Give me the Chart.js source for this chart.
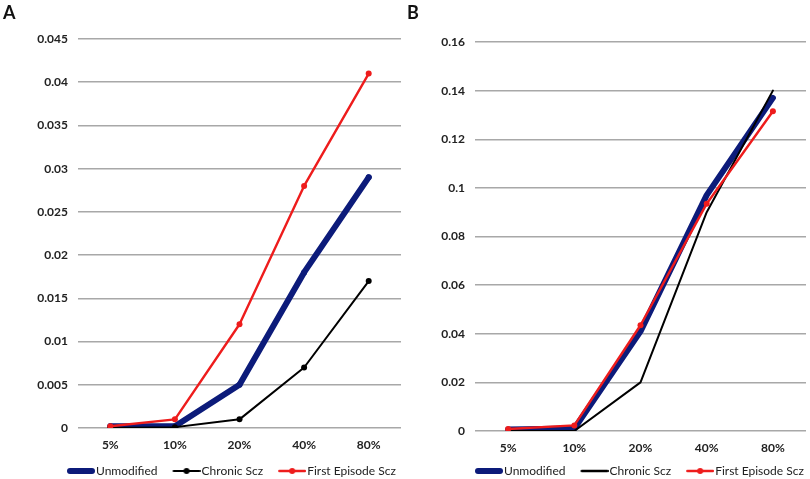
<!DOCTYPE html>
<html>
<head>
<meta charset="utf-8">
<script src="https://cdn.jsdelivr.net/npm/chart.js@4.4.1/dist/chart.umd.min.js"></script>
<style>
  html, body { margin: 0; padding: 0; background: #fff; }
  #wrap { position: relative; width: 810px; height: 479px; overflow: hidden; }
  .panel { position: absolute; top: 0; width: 405px; height: 479px; }
  .tag { position: absolute; top: 1px; font: bold 18px Lato, "DejaVu Sans", sans-serif; color: #111; }
</style>
</head>
<body>
<div id="wrap">
  <div class="panel" style="left:0"><canvas id="chartA" width="405" height="479"></canvas></div>
  <div class="panel" style="left:405px"><canvas id="chartB" width="405" height="479"></canvas></div>
  <div class="tag" style="left:3px">A</div>
  <div class="tag" style="left:407px">B</div>
</div>
<script>
  // ---- data ----
  var categories = ['5%', '10%', '20%', '40%', '80%'];
  var seriesNames = ['Unmodified', 'Chronic Scz', 'First Episode Scz'];

  // panel A
  var unmodifiedA   = [0.0002, 0.0002, 0.005, 0.018, 0.029];
  var chronicA      = [0.0, 0.0001, 0.001, 0.007, 0.017];
  var firstEpisodeA = [0.0002, 0.001, 0.012, 0.028, 0.041];
  var yTicksA = { max: 0.045, step: 0.005 };

  // panel B
  var unmodifiedB   = [0.0006, 0.001, 0.041, 0.097, 0.137];
  var chronicB      = [0.0, 0.0, 0.020, 0.090, 0.140];
  var firstEpisodeB = [0.0008, 0.0023, 0.0435, 0.0935, 0.1315];
  var yTicksB = { max: 0.16, step: 0.02 };

  var BLUE = '#0c1b7a';
  var BLACK = '#000000';
  var RED = '#ee1c1c';
  var FONT = 'Lato';

  /**
   * Small canvas used as legend swatch: transparent on the left,
   * line (and optional dot) on the right so the text sits right after it
   */
  function makeSwatch(color, width, dot) {
    var c = document.createElement('canvas');
    c.width = 46;
    c.height = 10;
    var ctx = c.getContext('2d');
    ctx.strokeStyle = color;
    ctx.lineWidth = width;
    ctx.lineCap = 'round';
    ctx.beginPath();
    ctx.moveTo(18 + width / 2, 5);
    ctx.lineTo(46 - width / 2, 5);
    ctx.stroke();
    if (dot) {
      ctx.fillStyle = color;
      ctx.beginPath();
      ctx.arc(32, 5, 3, 0, Math.PI * 2);
      ctx.fill();
    }
    return c;
  }

  // slide the legend box sideways after layout (y labels need the room on the left)
  var legendShift = {
    id: 'legendShift',
    afterLayout: function(chart, args, options) {
      if (chart.legend) {
        chart.legend.left += options.dx;
        chart.legend.right += options.dx;
      }
    }
  };

  function makeChart(id, series, swatches, dots, yTicks, opts) {
    var widths = [6, 2, 2.4];
    var colors = [BLUE, BLACK, RED];
    var datasets = series.map(function(values, i) {
      return {
        label: seriesNames[i],
        data: values,
        borderColor: colors[i],
        backgroundColor: colors[i],
        borderWidth: widths[i],
        borderCapStyle: 'round',
        borderJoinStyle: 'round',
        pointRadius: dots[i] ? 3 : 0,
        pointBorderWidth: 0,
        pointBackgroundColor: colors[i],
        tension: 0,
        order: 3 - i
      };
    });

    return new Chart(document.getElementById(id), {
      type: 'line',
      data: { labels: categories, datasets: datasets },
      plugins: [legendShift],
      options: {
        responsive: false,
        animation: false,
        devicePixelRatio: 1,
        layout: { padding: { left: 0, right: 2, top: opts.padTop, bottom: -8 } },
        plugins: {
          tooltip: { enabled: false },
          legendShift: { dx: opts.legendDx },
          legend: {
            position: 'bottom',
            align: 'start',
            labels: {
              usePointStyle: true,
              pointStyleWidth: 36,
              padding: 2,
              color: '#222',
              font: { family: FONT, size: 12 },
              generateLabels: function(chart) {
                return chart.data.datasets.map(function(ds, i) {
                  return {
                    text: ds.label,
                    pointStyle: swatches[i],
                    fillStyle: 'transparent',
                    strokeStyle: 'transparent',
                    lineWidth: 0,
                    hidden: false,
                    datasetIndex: i,
                    fontColor: '#222'
                  };
                });
              }
            }
          }
        },
        scales: {
          x: {
            offset: true,
            grid: { display: false, drawTicks: false },
            border: { display: false },
            ticks: { color: '#222', padding: 10, font: { family: FONT, size: 12, weight: 'bold' } },
            afterFit: function(scale) { scale.height = opts.xHeight; }
          },
          y: {
            min: 0,
            max: yTicks.max,
            border: { display: false },
            grid: { color: '#a8a8a8', lineWidth: 1.5, drawTicks: false },
            ticks: {
              stepSize: yTicks.step,
              padding: 10,
              color: '#222',
              font: { family: FONT, size: 12, weight: 'bold' },
              callback: function(v) { return String(Number(v.toFixed(4))); }
            },
            afterFit: function(scale) { scale.width = opts.yWidth; }
          }
        }
      }
    });
  }

  var swatchesA = [makeSwatch(BLUE, 6, true), makeSwatch(BLACK, 2, true), makeSwatch(RED, 2.4, true)];
  var swatchesB = [makeSwatch(BLUE, 6, false), makeSwatch(BLACK, 2.4, false), makeSwatch(RED, 2.4, true)];

  makeChart('chartA', [unmodifiedA, chronicA, firstEpisodeA], swatchesA, [true, true, true], yTicksA,
    { yWidth: 78, padTop: 39, xHeight: 35, legendDx: 52 });
  makeChart('chartB', [unmodifiedB, chronicB, firstEpisodeB], swatchesB, [false, false, true], yTicksB,
    { yWidth: 70, padTop: 42, xHeight: 32, legendDx: 55 });
</script>
</body>
</html>
